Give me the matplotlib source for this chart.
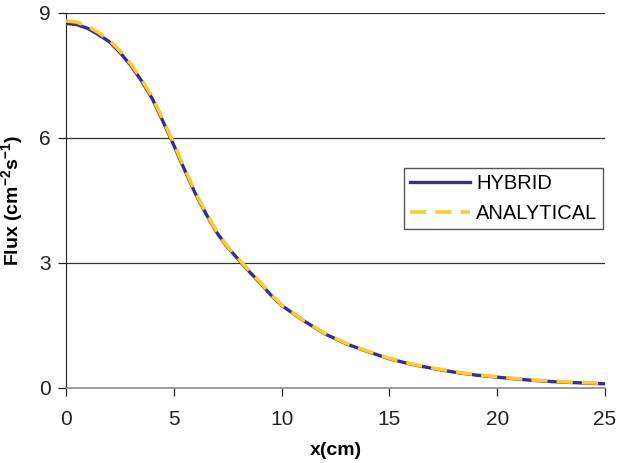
import matplotlib
matplotlib.use('Agg')
import matplotlib.pyplot as plt
import numpy as np

plt.rcParams['font.family'] = ['Liberation Sans', 'DejaVu Sans']

# distance (cm)
x_cm = [0, 0.5, 1, 1.5, 2, 2.5, 3, 3.5, 4, 4.5, 5, 5.5, 6, 6.5, 7, 7.5, 8,
        8.5, 9, 9.5, 10, 11, 12, 13, 14, 15, 16, 17, 18, 19, 20, 21, 22, 23,
        24, 25]
# flux values
hybrid = [8.75, 8.72, 8.63, 8.48, 8.31, 8.05, 7.74, 7.37, 6.94, 6.39, 5.82,
          5.23, 4.66, 4.17, 3.72, 3.37, 3.08, 2.79, 2.52, 2.23, 1.98, 1.62,
          1.30, 1.06, 0.87, 0.70, 0.57, 0.47, 0.38, 0.31, 0.26, 0.21, 0.17,
          0.14, 0.12, 0.10]
analytical = [8.81, 8.78, 8.68, 8.53, 8.35, 8.09, 7.78, 7.41, 6.98, 6.43,
              5.86, 5.27, 4.69, 4.20, 3.74, 3.39, 3.10, 2.81, 2.54, 2.25,
              1.99, 1.63, 1.31, 1.07, 0.88, 0.71, 0.58, 0.48, 0.39, 0.32,
              0.27, 0.22, 0.18, 0.15, 0.13, 0.11]

fig = plt.figure(figsize=(6.18, 4.63), dpi=100)
ax = fig.add_axes([0.107, 0.162, 0.872, 0.81])

# gridlines
for yv in [3, 6, 9]:
    ax.axhline(yv, color='#333333', lw=0.9, zorder=1)

ax.plot(x_cm, hybrid, color='#2E3192', lw=2.4, label='HYBRID', zorder=3)
ax.plot(x_cm, analytical, color='#FFC82C', lw=2.6, dashes=(4.5, 2.5),
        label='ANALYTICAL', zorder=4)

ax.set_xlim(0, 25)
ax.set_ylim(0, 9)
ax.set_xticks([0, 5, 10, 15, 20, 25])
ax.set_yticks([0, 3, 6, 9])

for s in ['top', 'right']:
    ax.spines[s].set_visible(False)
ax.spines['left'].set_color('#222222')
ax.spines['bottom'].set_color('#888888')
ax.spines['bottom'].set_linewidth(1.2)
ax.tick_params(direction='out', length=6, width=0.9, color='#222222',
               labelsize=15, labelcolor='#222222', pad=5)
ax.tick_params(axis='x', pad=10)

ax.set_xlabel('x(cm)', fontsize=14, fontweight='bold', labelpad=9)
ax.set_ylabel('Flux (cm$\\mathregular{^{-2}}$s$\\mathregular{^{-1}}$)',
              fontsize=14, fontweight='bold', labelpad=10)

leg = ax.legend(loc='upper right', bbox_to_anchor=(0.997, 0.587),
                borderaxespad=0, fontsize=14.5, handlelength=3.0,
                handletextpad=0.3, fancybox=False, framealpha=1,
                edgecolor='#555555', borderpad=0.3, labelspacing=0.55)
leg.get_frame().set_linewidth(1.0)

fig.savefig('out.png', dpi=100)
